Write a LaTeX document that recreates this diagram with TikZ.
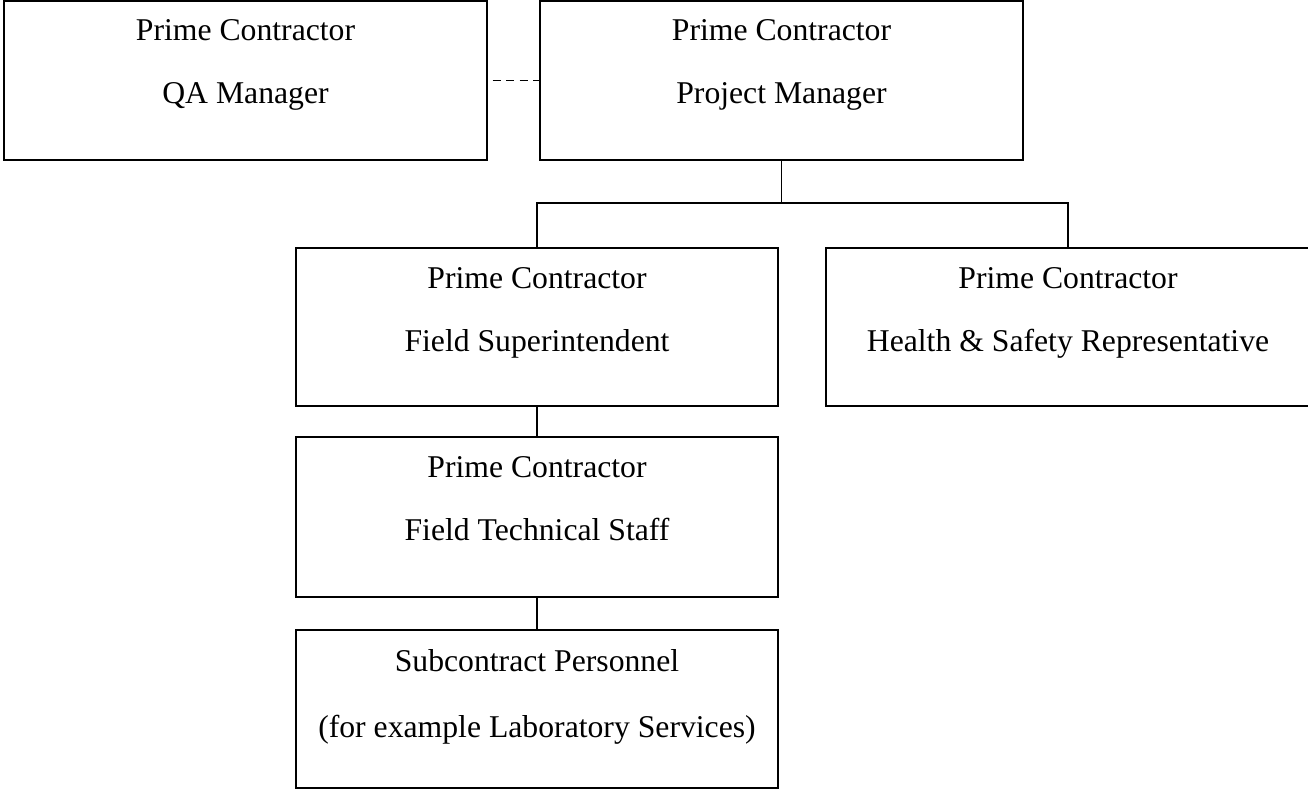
\documentclass[tikz,border=0pt]{standalone}
\usepackage{fontspec}
\setmainfont{Liberation Serif}
\usetikzlibrary{calc}
\begin{document}
\begin{tikzpicture}[x=1pt,y=-1pt,
  box/.style={draw=black,line width=1.6pt,rectangle,inner sep=0pt,outer sep=0pt,anchor=north west,minimum width=483pt,minimum height=159pt},
  txt/.style={inner sep=0pt,anchor=base,font=\fontsize{31.7}{38}\selectfont},
  conn/.style={draw=black,line width=1.6pt}]
\useasboundingbox (0,0) rectangle (1308,789);
\clip (0,0) rectangle (1308,789);
% boxes
\node[box] (QA) at (4,1) {};
\node[box] (PM) at (540,1) {};
\node[box,minimum width=482pt,minimum height=158pt] (FS) at (296,248) {};
\node[box,minimum width=484pt,minimum height=158pt] (HS) at (826,248) {};
\node[box,minimum width=482pt,minimum height=160pt] (FT) at (296,437) {};
\node[box,minimum width=482pt,minimum height=158pt] (SUB) at (296,630) {};
% texts
\node[txt] (qa1) at ($(QA.north)+(0,40)$) {Prime Contractor};
\node[txt] (qa2) at ($(QA.north)+(0,103)$) {QA Manager};
\node[txt] (pm1) at ($(PM.north)+(0,40)$) {Prime Contractor};
\node[txt] (pm2) at ($(PM.north)+(0,103)$) {Project Manager};
\node[txt] (fs1) at ($(FS.north)+(0,40)$) {Prime Contractor};
\node[txt] (fs2) at ($(FS.north)+(0,103)$) {Field Superintendent};
\node[txt] (hs1) at ($(HS.north)+(0,40)$) {Prime Contractor};
\node[txt] (hs2) at ($(HS.north)+(0,103)$) {Health \& Safety Representative};
\node[txt] (ft1) at ($(FT.north)+(0,40)$) {Prime Contractor};
\node[txt] (ft2) at ($(FT.north)+(0,103)$) {Field Technical Staff};
\node[txt] (sb1) at ($(SUB.north)+(0,41)$) {Subcontract Personnel};
\node[txt] (sb2) at ($(SUB.north)+(0,107)$) {(for example Laboratory Services)};
% connectors
\coordinate (bus) at (781.5,203);
\draw[conn,dash pattern=on 8pt off 5.5pt,dash phase=8pt] (QA.east) -- (PM.west);
\draw[conn] (PM.south) -- (bus);
\draw[conn] (FS.north) |- (bus) -| (HS.north);
\draw[conn] (FS.south) -- (FT.north);
\draw[conn] (FT.south) -- (SUB.north);
\end{tikzpicture}
\end{document}
